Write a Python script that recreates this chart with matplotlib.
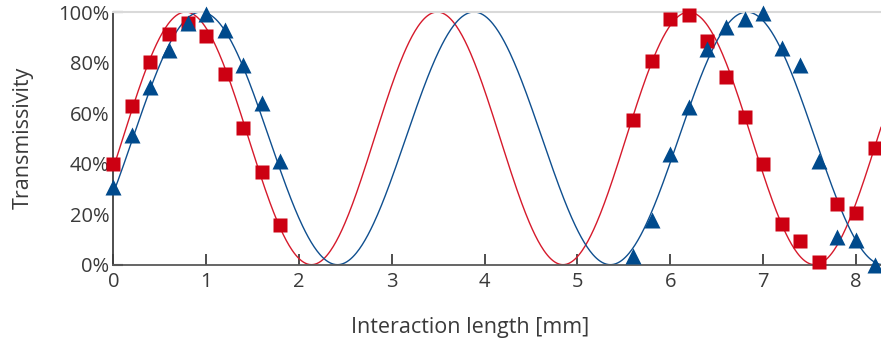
import numpy as np
import matplotlib
matplotlib.use("Agg")
import matplotlib.pyplot as plt

plt.rcParams['font.family'] = ['Open Sans', 'DejaVu Sans']

# Measured transmissivity (%) vs interaction length (mm)
x_meas = [0.0, 0.2, 0.4, 0.6, 0.8, 1.0, 1.2, 1.4, 1.6, 1.8,
          5.6, 5.8, 6.0, 6.2, 6.4, 6.6, 6.8, 7.0, 7.2, 7.4, 7.6, 7.8, 8.0, 8.2]
red_meas = [40, 62.7, 80.1, 91.4, 95.8, 90.5, 75.6, 54, 36.7, 15.6,
            57.3, 80.7, 97.2, 98.7, 88.5, 74.1, 58.3, 40, 16.2, 9.4, 1, 24, 20.6, 46.3]
blue_meas = [30.6, 51.3, 70.4, 84.8, 95.8, 99.2, 92.7, 79, 63.9, 41.2,
             3.3, 17.5, 43.8, 62.3, 85.2, 94.2, 97.2, 99.5, 85.9, 78.9, 41, 10.9, 9.8, 0]

# Fitted coupling curves: peak position and beat length (mm)
red_peak, red_period = 3.49, 2.71
blue_peak, blue_period = 3.885, 2.94

x_min, x_max = 0.0, 8.27
xs = np.linspace(x_min, x_max, 800)


def coupling(x, peak, period):
    return 50.0 * (1.0 + np.cos(2.0 * np.pi * (x - peak) / period))


red_c = '#cc0012'
red_line = '#d61a2c'
blue_c = '#004a8c'
blue_line = '#0f4f8f'
text_c = '#3a3a3a'

fig = plt.figure(figsize=(8.81, 3.41), dpi=100)
ax = fig.add_axes([0.1286, 0.2238, 1.0 - 0.1286, 0.9648 - 0.2238])

ax.plot(xs, coupling(xs, red_peak, red_period), color=red_line, lw=1.0, zorder=2)
ax.plot(xs, coupling(xs, blue_peak, blue_period), color=blue_line, lw=1.0, zorder=2)
ax.plot(x_meas, red_meas, 's', color=red_c, ms=10.5, mec='none', zorder=3, clip_on=False)
ax.plot(x_meas, blue_meas, '^', color=blue_c, ms=11, mec='none', zorder=4, clip_on=False)

ax.set_xlim(x_min, x_max)
ax.set_ylim(0, 100)
ax.set_xticks(range(0, 9))
ax.set_yticks(range(0, 101, 20))
ax.set_yticklabels([f'{v}%' for v in range(0, 101, 20)])

ax.spines['right'].set_visible(False)
ax.spines['top'].set_color('#d9d9d9')
ax.spines['top'].set_linewidth(1.5)
ax.spines['left'].set_color('#404040')
ax.spines['left'].set_linewidth(1.3)
ax.spines['bottom'].set_color('#595959')
ax.spines['bottom'].set_linewidth(1.3)

ax.tick_params(axis='x', direction='in', length=8, width=1.3, color='#404040',
               labelsize=14.5, labelcolor=text_c, pad=5)
ax.tick_params(axis='y', direction='in', length=7, width=1.5, color='#404040',
               labelsize=14.5, labelcolor=text_c, pad=3)
yt = ax.yaxis.get_major_ticks()
for t in yt[1:-1]:
    t.tick1line.set_visible(False)

ax.set_xlabel('Interaction length [mm]', fontsize=15.5, color=text_c)
ax.set_ylabel('Transmissivity', fontsize=15.5, color=text_c)
ax.xaxis.set_label_coords(0.465, -0.207)
ax.yaxis.set_label_coords(-0.104, 0.5)

fig.savefig('out.png', dpi=100)
